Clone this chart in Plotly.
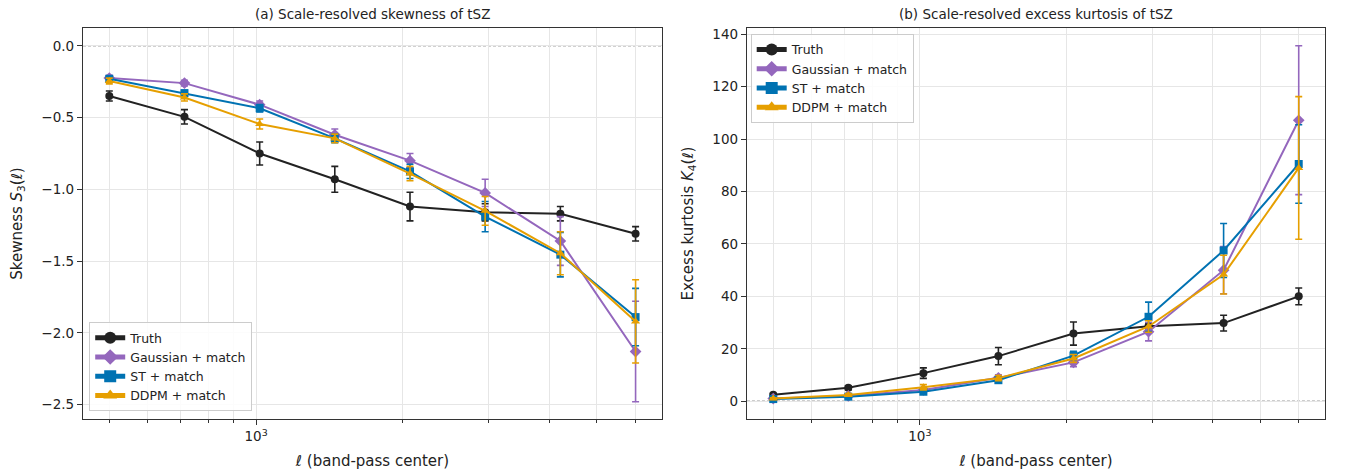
import math
import plotly.graph_objects as go

# ---------------- data ----------------
ell = [500, 713, 1017, 1450, 2068, 2949, 4206, 6000]

truth_s3 = [-0.35, -0.495, -0.75, -0.93, -1.12, -1.16, -1.17, -1.31]
truth_s3_err = [0.035, 0.05, 0.08, 0.09, 0.10, 0.06, 0.05, 0.05]
gauss_s3 = [-0.225, -0.26, -0.41, -0.62, -0.80, -1.025, -1.36, -2.13]
gauss_s3_err = [0.02, 0.02, 0.025, 0.04, 0.05, 0.095, 0.17, 0.35]
st_s3 = [-0.23, -0.33, -0.435, -0.645, -0.875, -1.19, -1.455, -1.89]
st_s3_err = [0.02, 0.02, 0.025, 0.03, 0.05, 0.105, 0.155, 0.20]
ddpm_s3 = [-0.245, -0.36, -0.545, -0.645, -0.89, -1.15, -1.445, -1.92]
ddpm_s3_err = [0.02, 0.025, 0.035, 0.03, 0.05, 0.10, 0.15, 0.29]

truth_k4 = [2.5, 5.1, 10.7, 17.2, 25.8, 28.6, 29.8, 40.0]
truth_k4_err = [0.5, 0.8, 2.0, 3.3, 4.4, 1.0, 3.0, 3.2]
gauss_k4 = [1.0, 2.0, 4.3, 8.9, 14.8, 26.5, 50.0, 107.2]
gauss_k4_err = [0.3, 0.4, 0.7, 1.2, 1.6, 3.5, 9.0, 28.4]
st_k4 = [0.8, 1.7, 3.6, 8.0, 17.4, 32.2, 57.5, 90.5]
st_k4_err = [0.3, 0.4, 0.8, 1.0, 1.6, 5.6, 10.3, 15.0]
ddpm_k4 = [1.0, 2.4, 5.3, 8.8, 16.3, 28.5, 48.3, 89.0]
ddpm_k4_err = [0.3, 0.5, 1.0, 1.0, 1.5, 2.2, 7.4, 27.2]

names = ["Truth", "Gaussian + match", "ST + match", "DDPM + match"]
colors = ["#222222", "#9467bd", "#0072B2", "#E69F00"]
symbols = ["circle", "diamond", "square", "triangle-up"]

minor_vals = [500, 600, 700, 800, 900, 2000, 3000, 4000, 5000, 6000]

# --------------- figure ---------------
FONT = "DejaVu Sans"
fig = go.Figure()

panels = [
    ("x", "y", "legend", [truth_s3, gauss_s3, st_s3, ddpm_s3],
     [truth_s3_err, gauss_s3_err, st_s3_err, ddpm_s3_err]),
    ("x2", "y2", "legend2", [truth_k4, gauss_k4, st_k4, ddpm_k4],
     [truth_k4_err, gauss_k4_err, st_k4_err, ddpm_k4_err]),
]

for xa, ya, leg, series, errs in panels:
    for i in range(4):
        fig.add_trace(go.Scatter(
            x=ell, y=series[i], name=names[i], mode="lines+markers",
            xaxis=xa, yaxis=ya, legend=leg,
            line=dict(color=colors[i], width=2),
            marker=dict(symbol=symbols[i], size=8 if i != 1 else 9, color=colors[i]),
            error_y=dict(type="data", array=errs[i], visible=True,
                         color=colors[i], thickness=1.6, width=3.5),
        ))

lo, hi = math.log10(min(ell)), math.log10(max(ell))
pad = 0.05 * (hi - lo)
xr = [lo - pad, hi + pad]

xcommon = dict(
    type="log", range=xr, tickmode="array", tickvals=[1000],
    ticktext=["10<sup>3</sup>"], ticks="outside", ticklen=5, tickwidth=1,
    tickcolor="#333", showline=True, linecolor="#333", linewidth=1.3,
    mirror=True, showgrid=True, gridcolor="#e6e6e6", gridwidth=1,
    zeroline=False, automargin=False,
    tickfont=dict(family=FONT, size=13.5, color="#222"),
    title=dict(text="<i>ℓ</i> (band-pass center)",
               font=dict(family=FONT, size=15, color="#222"), standoff=12),
    minor=dict(tickmode="array", tickvals=minor_vals, ticks="outside",
               ticklen=3, tickcolor="#333", showgrid=True,
               gridcolor="#e6e6e6", gridwidth=1),
)
ycommon = dict(
    ticks="outside", ticklen=5, tickwidth=1, tickcolor="#333",
    showline=True, linecolor="#333", linewidth=1.3, mirror=True,
    showgrid=True, gridcolor="#e6e6e6", gridwidth=1, zeroline=False,
    automargin=False,
    tickfont=dict(family=FONT, size=13.5, color="#222"),
)

legcommon = dict(
    bgcolor="rgba(255,255,255,0.85)", bordercolor="#cccccc", borderwidth=1,
    font=dict(family=FONT, size=12.5, color="#222"),
    tracegroupgap=0, itemsizing="constant", itemwidth=30,
)

fig.update_layout(
    width=1346, height=474,
    margin=dict(l=83, r=21, t=28, b=55),
    paper_bgcolor="white", plot_bgcolor="white",
    font=dict(family=FONT, color="#222"),
    xaxis=dict(domain=[0, 0.4661], anchor="y", **xcommon),
    xaxis2=dict(domain=[0.5346, 1], anchor="y2", **xcommon),
    yaxis=dict(domain=[0, 1], anchor="x", range=[-2.60, 0.124], dtick=0.5,
               tickformat=".1f",
               title=dict(text="Skewness <i>S</i><sub>3</sub>(<i>ℓ</i>)",
                          font=dict(family=FONT, size=15, color="#222"), standoff=15),
               **ycommon),
    yaxis2=dict(domain=[0, 1], anchor="x2", range=[-6.8, 142.4], dtick=20,
                title=dict(text="Excess kurtosis <i>K</i><sub>4</sub>(<i>ℓ</i>)",
                           font=dict(family=FONT, size=15, color="#222"), standoff=15),
                **ycommon),
    legend=dict(x=0.005, y=0.02, xanchor="left", yanchor="bottom",
                xref="paper", yref="paper", **legcommon),
    legend2=dict(x=0.5346 + 0.003, y=0.985, xanchor="left", yanchor="top",
                 xref="paper", yref="paper", **legcommon),
    showlegend=True,
)

# zero reference lines
for xa, ya in [("x", "y"), ("x2", "y2")]:
    fig.add_shape(type="line", xref=f"{xa} domain", yref=ya, x0=0, x1=1, y0=0, y1=0,
                  line=dict(color="#555555", width=0.9, dash="3px,2px"), layer="below")

# titles
fig.add_annotation(text="(a) Scale-resolved skewness of tSZ", xref="x domain", yref="paper",
                   x=0.5, y=1, yanchor="bottom", yshift=4, showarrow=False,
                   font=dict(family=FONT, size=13.5, color="#222"))
fig.add_annotation(text="(b) Scale-resolved excess kurtosis of tSZ", xref="x2 domain", yref="paper",
                   x=0.5, y=1, yanchor="bottom", yshift=4, showarrow=False,
                   font=dict(family=FONT, size=13.5, color="#222"))

fig.write_html("out.html", config={"displayModeBar": False},
               post_script="document.body.style.margin='0px';")
